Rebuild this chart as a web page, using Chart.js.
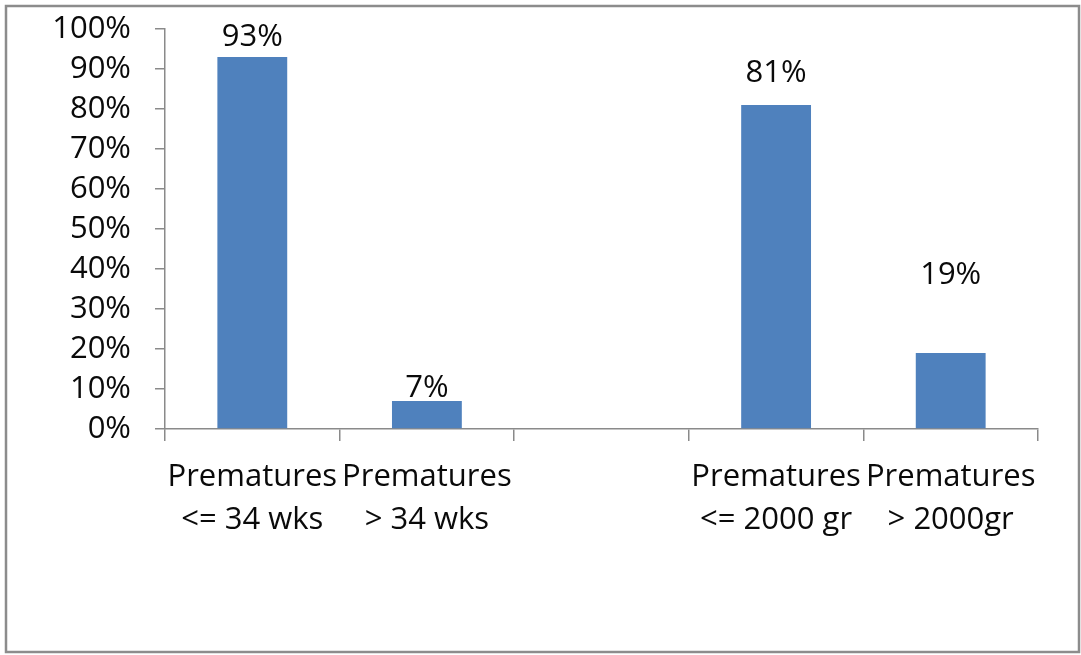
<!DOCTYPE html>
<html>
<head>
<meta charset="utf-8">
<script src="https://cdn.jsdelivr.net/npm/chart.js@4/dist/chart.umd.min.js"></script>
<style>
  html, body { margin: 0; padding: 0; background: #ffffff; }
  #wrap { width: 1081px; height: 655px; position: relative; }
</style>
</head>
<body>
<div id="wrap"><canvas id="chart" width="1081" height="655"></canvas></div>
<script>
// Share of premature births by gestational age and birth weight
const categories = [
  ["Prematures", "<= 34 wks"],
  ["Prematures", "> 34 wks"],
  "",
  ["Prematures", "<= 2000 gr"],
  ["Prematures", "> 2000gr"]
];
const percentages = [93, 7, null, 81, 19];
const valueLabels = ["93%", "7%", "", "81%", "19%"];
// vertical gap (px) between each bar top and its value label baseline
const labelGaps = [11, 4, 0, 23, 69];

const FONT = "'Open Sans', 'Liberation Sans', sans-serif";
const AXIS_GREY = '#8a8a8a';
const TEXT = '#0a0a0a';

// white background and grey frame around the whole figure
const framePlugin = {
  id: 'frame',
  beforeDraw(chart) {
    const ctx = chart.ctx;
    ctx.save();
    ctx.fillStyle = '#ffffff';
    ctx.fillRect(0, 0, chart.width, chart.height);
    ctx.strokeStyle = '#8c8c8c';
    ctx.lineWidth = 2.5;
    ctx.strokeRect(6, 6, chart.width - 8, chart.height - 9);
    ctx.restore();
  }
};

// value labels above the bars
const valueLabelPlugin = {
  id: 'valueLabels',
  afterDatasetsDraw(chart) {
    const ctx = chart.ctx;
    const meta = chart.getDatasetMeta(0);
    ctx.save();
    ctx.font = '31px ' + FONT;
    ctx.fillStyle = TEXT;
    ctx.textAlign = 'center';
    ctx.textBaseline = 'alphabetic';
    meta.data.forEach((bar, i) => {
      if (percentages[i] === null) return;
      ctx.fillText(valueLabels[i], bar.x, bar.y - labelGaps[i]);
    });
    ctx.restore();
  }
};

new Chart(document.getElementById('chart'), {
  type: 'bar',
  data: {
    labels: categories,
    datasets: [{
      data: percentages,
      backgroundColor: '#4f81bd',
      borderWidth: 0,
      barPercentage: 0.4,
      categoryPercentage: 1.0
    }]
  },
  options: {
    responsive: false,
    animation: false,
    devicePixelRatio: 1,
    layout: { padding: { top: 29, right: 43, bottom: 0, left: 0 } },
    plugins: {
      legend: { display: false },
      tooltip: { enabled: false }
    },
    scales: {
      x: {
        grid: {
          offset: true,
          drawOnChartArea: false,
          drawTicks: true,
          tickLength: 12,
          color: AXIS_GREY,
          lineWidth: 1.5
        },
        border: { display: true, color: AXIS_GREY, width: 1.5 },
        ticks: {
          color: TEXT,
          font: { family: FONT, size: 31, lineHeight: 1.38 },
          padding: 15,
          maxRotation: 0,
          autoSkip: false
        },
        afterFit(scale) { scale.height = 226; }
      },
      y: {
        min: 0,
        max: 100,
        grid: {
          drawOnChartArea: false,
          drawTicks: true,
          tickLength: 10,
          color: AXIS_GREY,
          lineWidth: 1.5
        },
        border: { display: true, color: AXIS_GREY, width: 1.5 },
        ticks: {
          stepSize: 10,
          autoSkip: false,
          color: TEXT,
          font: { family: FONT, size: 31 },
          padding: 24,
          callback: v => v + '%'
        },
        afterFit(scale) {
          scale.width = 165;
          // the plot top is set by the layout padding alone
          scale.paddingTop = 0;
          scale.paddingBottom = 0;
        }
      }
    }
  },
  plugins: [framePlugin, valueLabelPlugin]
});
</script>
</body>
</html>
